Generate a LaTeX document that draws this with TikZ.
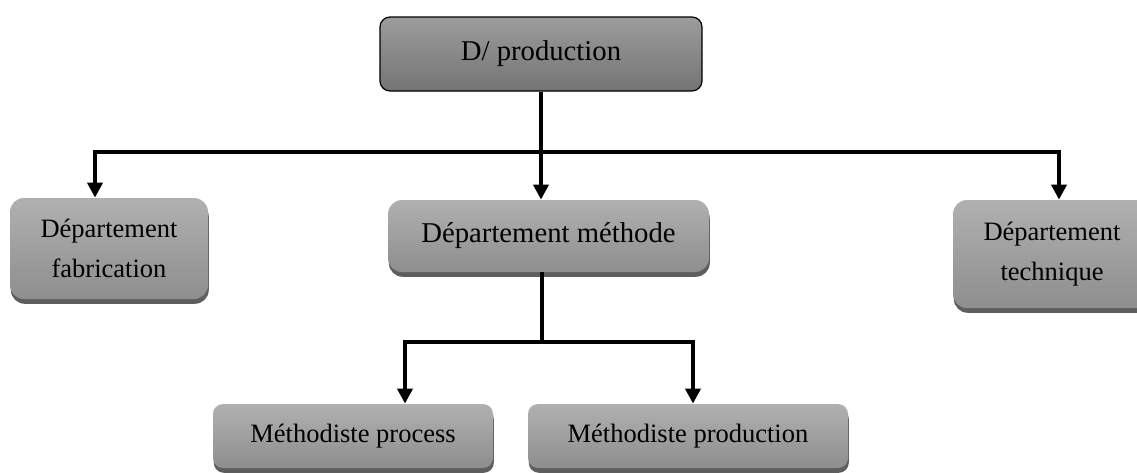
\documentclass[tikz,border=0pt]{standalone}
\usepackage{fontspec}
\setmainfont{Liberation Serif}
\usetikzlibrary{arrows.meta,shadows,shadings}

\definecolor{headtop}{HTML}{9C9C9C}
\definecolor{headbot}{HTML}{747474}
\definecolor{boxtop}{HTML}{B0B0B0}
\definecolor{boxbot}{HTML}{8E8E8E}
\definecolor{shadowgray}{HTML}{5E5E5E}

\tikzset{
  headbox/.style={draw=black, line width=0.6pt, rounded corners=5pt,
    top color=headtop, bottom color=headbot, inner sep=0pt,
    font=\fontsize{14.35}{20}\selectfont},
  deptbox/.style={rounded corners=7pt, top color=boxtop, bottom color=boxbot,
    inner sep=0pt, align=center,
    drop shadow={shadow xshift=0.4pt, shadow yshift=-2.4pt, fill=shadowgray, opacity=1},
    font=\fontsize{13.25}{20}\selectfont},
  bigtext/.style={font=\fontsize{14.35}{20}\selectfont},
  conn/.style={line width=2pt, line join=miter, line cap=butt},
  tip/.style={-{Triangle[width=7.5pt,length=7.5pt]}}
}

\begin{document}
\begin{tikzpicture}[x=0.5pt, y=-0.5pt]
  \useasboundingbox (0,0) rectangle (1137,472);
  \clip (0,0) rectangle (1137,472);

  % head of the organisation
  \node[headbox, minimum width=161pt, minimum height=37pt] (head) at (541,54) {D/ production};

  % departments
  \node[deptbox, minimum width=99pt, minimum height=50.5pt] (fab) at (109,248.5)
    {Département\\fabrication};
  \node[deptbox, bigtext, minimum width=160.5pt, minimum height=36pt] (meth) at (548.5,236)
    {Département méthode};
  \node[deptbox, minimum width=99pt, minimum height=54pt] (tech) at (1052,254)
    {Département\\technique};

  % methodists
  \node[deptbox, rounded corners=5pt, minimum width=140pt, minimum height=32pt] (proc) at (353,436)
    {Méthodiste process};
  \node[deptbox, rounded corners=5pt, minimum width=160pt, minimum height=32pt] (prod) at (688,436)
    {Méthodiste production};

  % first level connectors
  \coordinate (bus) at (541,152);
  \draw[conn] (head.south) -- (bus);
  \draw[conn, tip] (bus) -| ([xshift=-7pt]fab.north);
  \draw[conn, tip] (bus) -| ([xshift=3.5pt]tech.north);
  \draw[conn, tip] (bus) -- (bus |- meth.north);

  % second level connectors
  \coordinate (subbus) at (542,342);
  \draw[conn] (subbus |- meth.south) -- (subbus);
  \draw[conn, tip] (subbus) -| ([xshift=26pt]proc.north);
  \draw[conn, tip] (subbus) -| ([xshift=2.5pt]prod.north);
\end{tikzpicture}
\end{document}
